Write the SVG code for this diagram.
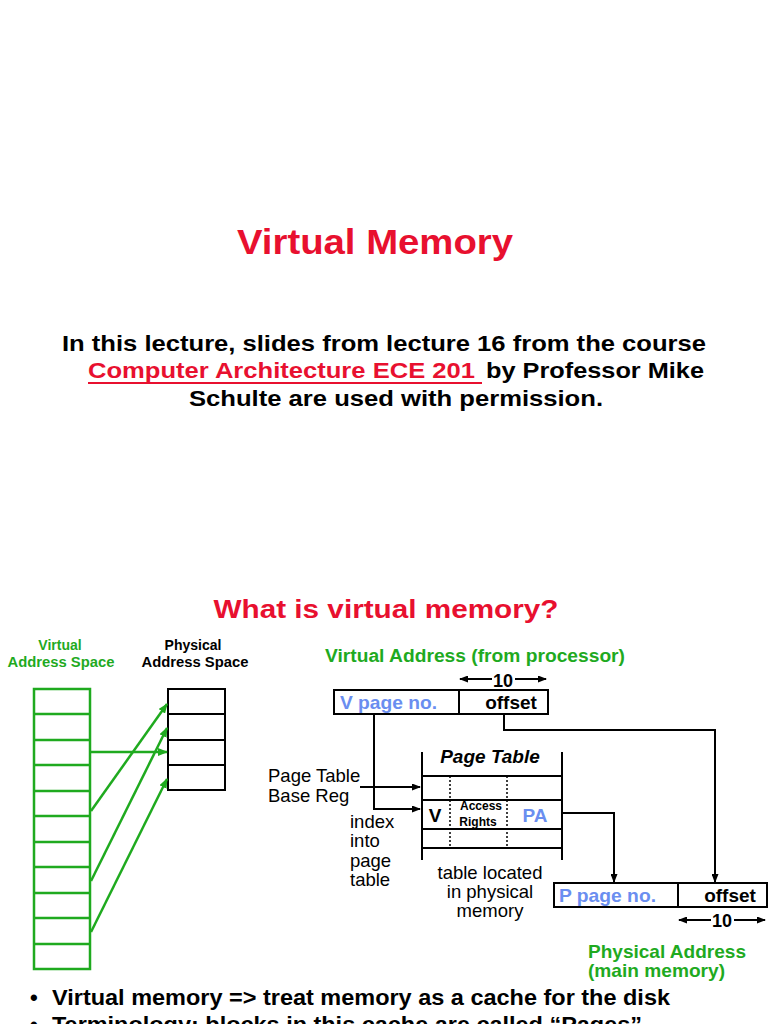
<svg xmlns="http://www.w3.org/2000/svg" width="768" height="1024" viewBox="0 0 768 1024">
<style>
text{font-family:"Liberation Sans",Arial,sans-serif}
.b{font-weight:bold}
.red{fill:#e8102f}
.grn{fill:#1faa1f}
.blu{fill:#6a8ef0}
.gl{stroke:#1faa1f;stroke-width:2.5;fill:none}
.kl{stroke:#000;stroke-width:2;fill:none}
</style>
<defs>
<marker id="ag" markerWidth="10" markerHeight="8" refX="9" refY="4" orient="auto" markerUnits="userSpaceOnUse"><path d="M0,0 L10,4 L0,8 z" fill="#1faa1f"/></marker>
<marker id="ak" markerWidth="9" markerHeight="7" refX="8" refY="3.5" orient="auto" markerUnits="userSpaceOnUse"><path d="M0,0 L9,3.5 L0,7 z" fill="#000"/></marker>
</defs>
<rect width="768" height="1024" fill="#fff"/>
<text x="375" y="254" text-anchor="middle" class="b red" font-size="35" textLength="276" lengthAdjust="spacingAndGlyphs">Virtual Memory</text>
<g font-size="22" class="b">
<text x="62" y="351" textLength="644" lengthAdjust="spacingAndGlyphs">In this lecture, slides from lecture 16 from the course</text>
<text x="88" y="378" class="red" textLength="387" lengthAdjust="spacingAndGlyphs">Computer Architecture ECE 201</text>
<line x1="88" y1="383" x2="482" y2="383" stroke="#e8102f" stroke-width="2"/>
<text x="486" y="378" textLength="218" lengthAdjust="spacingAndGlyphs">by Professor Mike</text>
<text x="189" y="406" textLength="414" lengthAdjust="spacingAndGlyphs">Schulte are used with permission.</text>
</g>
<text x="386" y="618" text-anchor="middle" class="b red" font-size="26" textLength="345" lengthAdjust="spacingAndGlyphs">What is virtual memory?</text>

<g id="virtual-space">
<text x="60" y="650" text-anchor="middle" class="b grn" font-size="14">Virtual</text>
<text x="61" y="667" text-anchor="middle" class="b grn" font-size="14" textLength="107" lengthAdjust="spacingAndGlyphs">Address Space</text>
<rect x="34" y="689" width="56" height="280" class="gl"/>
<path class="gl" d="M34,714H90M34,740H90M34,765H90M34,791H90M34,816H90M34,842H90M34,867H90M34,893H90M34,918H90M34,944H90"/>
</g>
<g id="physical-space">
<text x="193" y="650" text-anchor="middle" class="b" font-size="14">Physical</text>
<text x="195" y="667" text-anchor="middle" class="b" font-size="14" textLength="107" lengthAdjust="spacingAndGlyphs">Address Space</text>
<rect x="168" y="689" width="57" height="101" class="kl"/>
<path class="kl" d="M168,714H225M168,740H225M168,765H225"/>
</g>

<g id="virtual-address">
<text x="325" y="662" class="b grn" font-size="18" textLength="300" lengthAdjust="spacingAndGlyphs">Virtual Address (from processor)</text>
<rect x="334" y="690" width="214" height="24" class="kl" stroke-width="2.5"/>
<line x1="459" y1="690" x2="459" y2="714" class="kl"/>
<text x="340" y="709" class="b blu" font-size="19" textLength="97" lengthAdjust="spacingAndGlyphs">V page no.</text>
<text x="511" y="709" text-anchor="middle" class="b" font-size="19">offset</text>
<text x="503" y="687" text-anchor="middle" class="b" font-size="18">10</text>
</g>

<g id="page-table">
<text x="490" y="763" text-anchor="middle" class="b" font-style="italic" font-size="19">Page Table</text>
<path class="kl" d="M422,752V860M562,752V860M422,776H562M422,800H562M422,829H562M422,848H562"/>
<path d="M450,776V848M507,776V848" stroke="#000" stroke-width="1.5" stroke-dasharray="2,2" fill="none"/>
<text x="435" y="822" text-anchor="middle" class="b" font-size="19">V</text>
<text x="481" y="810" text-anchor="middle" class="b" font-size="12">Access</text>
<text x="478" y="826" text-anchor="middle" class="b" font-size="12">Rights</text>
<text x="535" y="822" text-anchor="middle" class="b blu" font-size="19">PA</text>
</g>

<g id="labels" font-size="18.5">
<text x="268" y="782">Page Table</text>
<text x="268" y="802">Base Reg</text>
<text x="350" y="828">index</text>
<text x="350" y="847">into</text>
<text x="350" y="867">page</text>
<text x="350" y="886">table</text>
<text x="490" y="879" text-anchor="middle">table located</text>
<text x="490" y="898" text-anchor="middle">in physical</text>
<text x="490" y="917" text-anchor="middle">memory</text>
</g>

<g id="physical-address">
<rect x="554" y="883" width="213" height="24" class="kl" stroke-width="2.5"/>
<line x1="678" y1="883" x2="678" y2="907" class="kl"/>
<text x="559" y="902" class="b blu" font-size="19" textLength="97" lengthAdjust="spacingAndGlyphs">P page no.</text>
<text x="730" y="902" text-anchor="middle" class="b" font-size="19">offset</text>
<text x="722" y="927" text-anchor="middle" class="b" font-size="18">10</text>
<text x="588" y="958" class="b grn" font-size="19" textLength="158" lengthAdjust="spacingAndGlyphs">Physical Address</text>
<text x="588" y="977" class="b grn" font-size="19" textLength="137" lengthAdjust="spacingAndGlyphs">(main memory)</text>
</g>

<g id="connectors">
<line class="gl" stroke-width="2" x1="90" y1="752" x2="167" y2="752" marker-end="url(#ag)"/>
<line class="gl" stroke-width="2" x1="91" y1="811" x2="167" y2="704" marker-end="url(#ag)"/>
<line class="gl" stroke-width="2" x1="91" y1="881" x2="167" y2="728" marker-end="url(#ag)"/>
<line class="gl" stroke-width="2" x1="91" y1="932" x2="167" y2="779" marker-end="url(#ag)"/>
<path class="kl" d="M374,714V809H420" marker-end="url(#ak)"/>
<path class="kl" d="M360,787H420" marker-end="url(#ak)"/>
<path class="kl" d="M504,714V730H715V882" marker-end="url(#ak)"/>
<path class="kl" d="M562,813H614V882" marker-end="url(#ak)"/>
<path class="kl" stroke-width="1.5" d="M492,679H460" marker-end="url(#ak)"/>
<path class="kl" stroke-width="1.5" d="M515,679H546" marker-end="url(#ak)"/>
<path class="kl" stroke-width="1.5" d="M711,920H679" marker-end="url(#ak)"/>
<path class="kl" stroke-width="1.5" d="M734,920H765" marker-end="url(#ak)"/>
</g>

<g font-size="22" class="b">
<text x="30" y="1005">•</text>
<text x="52" y="1005" textLength="618" lengthAdjust="spacingAndGlyphs">Virtual memory =&gt; treat memory as a cache for the disk</text>
<text x="30" y="1032">•</text>
<text x="52" y="1032" textLength="590" lengthAdjust="spacingAndGlyphs">Terminology: blocks in this cache are called “Pages”</text>
</g>
</svg>
